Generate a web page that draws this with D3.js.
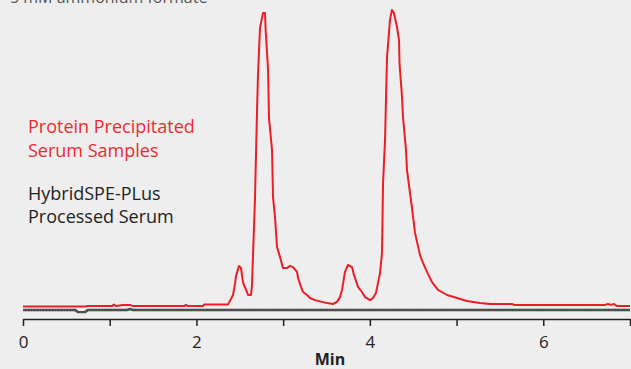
<!DOCTYPE html>
<html>
<head>
<meta charset="utf-8">
<script src="https://cdn.jsdelivr.net/npm/d3@7"></script>
<style>
  html, body { margin: 0; padding: 0; background: #eeeeee; }
  svg { display: block; font-family: "Open Sans", sans-serif; }
</style>
</head>
<body>
<svg id="chart" width="631" height="369"></svg>
<script>
// retention time (min) and relative response
const redTime = [0, 0.715, 0.75, 1.026, 1.049, 1.073, 1.153, 1.234, 1.269, 1.857, 1.88, 1.903, 2.076, 2.087, 2.364,
  2.422, 2.445, 2.456, 2.491, 2.514, 2.537, 2.549, 2.583, 2.595, 2.629, 2.641, 2.652, 2.675, 2.699, 2.71, 2.733,
  2.756, 2.768, 2.791, 2.797, 2.826, 2.837, 2.872, 2.883, 2.906, 2.929, 2.964, 2.998, 3.045, 3.079, 3.114, 3.16,
  3.172, 3.206, 3.229, 3.275, 3.31, 3.367, 3.448, 3.506, 3.575, 3.621, 3.656, 3.679, 3.713, 3.748, 3.794, 3.817,
  3.863, 3.909, 3.944, 4.002, 4.036, 4.071, 4.117, 4.14, 4.146, 4.152, 4.175, 4.186, 4.198, 4.232, 4.255, 4.278,
  4.313, 4.336, 4.342, 4.371, 4.382, 4.417, 4.428, 4.463, 4.486, 4.521, 4.578, 4.613, 4.659, 4.717, 4.786, 4.89,
  5.005, 5.12, 5.27, 5.386, 5.639, 5.662, 6.712, 6.746, 6.781, 6.816, 6.85, 7];
const redSignal = [1.2, 1.2, 1.3, 1.3, 1.8, 1.3, 1.7, 1.7, 1.3, 1.3, 1.7, 1.3, 1.3, 1.8, 1.8,
  5.0, 8.7, 11.3, 14.7, 14.0, 9.3, 8.3, 6.0, 5.0, 5.0, 8.3, 17.7, 36.7, 66.7, 78.3, 94.0,
  97.3, 99.0, 99.0, 94.0, 80.0, 64.0, 53.3, 37.7, 31.0, 21.0, 17.7, 14.0, 14.0, 14.7, 14.3, 12.7,
  10.7, 7.7, 6.0, 5.0, 4.0, 3.3, 2.7, 2.3, 2.0, 2.7, 4.3, 6.7, 12.7, 15.0, 14.3, 11.7,
  7.7, 6.0, 4.3, 3.3, 4.0, 5.7, 12.3, 19.0, 30.0, 42.3, 56.7, 70.0, 84.3, 96.7, 100, 99.0,
  94.3, 90.0, 82.3, 71.0, 64.3, 53.3, 46.7, 39.0, 34.0, 25.7, 18.3, 15.7, 12.7, 9.3, 6.7, 5.0,
  4.0, 3.0, 2.3, 2.0, 2.0, 1.7, 1.7, 2.0, 1.7, 2.0, 1.3, 1.3];

const blackTime = [0, 0.6, 0.634, 0.715, 0.75, 1.199, 1.234, 1.269, 7];
const blackSignal = [0, 0, -0.7, -0.7, 0, 0, 0.3, 0, 0];

const xTicks = [0, 1, 2, 3, 4, 5, 6, 7];
const xLabels = ["0", "", "2", "", "4", "", "6", ""];

const svg = d3.select("#chart");

const x = d3.scaleLinear().domain([0, 7]).range([23, 630]);
const y = d3.scaleLinear().domain([0, 100]).range([310, 10]);

const line = d3.line()
  .x(d => x(d[0]))
  .y(d => y(d[1]));

const redData = redTime.map((t, i) => [t, redSignal[i]]);
const blackData = blackTime.map((t, i) => [t, blackSignal[i]]);

// processed serum trace (dark, slightly textured)
svg.append("path")
  .datum(blackData)
  .attr("fill", "none")
  .attr("stroke", "#3a3a3a")
  .attr("stroke-width", 2.4)
  .attr("d", line);
svg.append("path")
  .datum(blackData)
  .attr("fill", "none")
  .attr("stroke", "#8a8a8a")
  .attr("stroke-width", 0.8)
  .attr("stroke-dasharray", "2,1")
  .attr("d", line);

// protein precipitated trace
svg.append("path")
  .datum(redData)
  .attr("fill", "none")
  .attr("stroke", "#ee1c25")
  .attr("stroke-width", 2)
  .attr("stroke-linejoin", "round")
  .attr("d", line);

// x axis
const axis = svg.append("g")
  .attr("transform", "translate(0,319)")
  .call(d3.axisBottom(x)
    .tickValues(xTicks)
    .tickSize(7)
    .tickSizeOuter(0)
    .tickFormat((d, i) => xLabels[i]));
axis.select(".domain").attr("stroke", "#222").attr("stroke-width", 1.5);
axis.selectAll(".tick line").attr("stroke", "#222").attr("stroke-width", 1.5);
axis.selectAll(".tick text")
  .attr("y", 17)
  .attr("fill", "#222")
  .style("font-size", "17px")
  .style("font-family", "'Open Sans', sans-serif");

svg.append("text")
  .attr("x", 330)
  .attr("y", 365)
  .attr("text-anchor", "middle")
  .attr("fill", "#222")
  .style("font-size", "16px")
  .style("font-weight", "bold")
  .text("Min");

// cut-off caption at the very top
svg.append("text")
  .attr("x", 10)
  .attr("y", 3)
  .attr("fill", "#555")
  .style("font-size", "16px")
  .text("5 mM ammonium formate");

// labels
const labels = [
  { text: "Protein Precipitated", y: 133, color: "#ee2a30" },
  { text: "Serum Samples", y: 157, color: "#ee2a30" },
  { text: "HybridSPE-PLus", y: 200, color: "#222" },
  { text: "Processed Serum", y: 223, color: "#222" }
];
svg.selectAll(".lbl")
  .data(labels)
  .enter().append("text")
  .attr("class", "lbl")
  .attr("x", 28)
  .attr("y", d => d.y)
  .attr("fill", d => d.color)
  .style("font-size", "18px")
  .text(d => d.text);
</script>
</body>
</html>
